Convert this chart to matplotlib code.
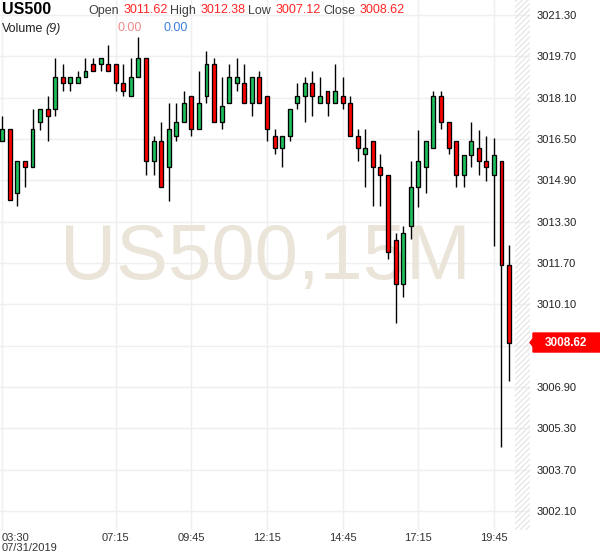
import matplotlib
matplotlib.use("Agg")
import matplotlib.pyplot as plt
import matplotlib.patches as mpatches
import matplotlib.transforms as mtransforms
import numpy as np

plt.rcParams['font.family'] = ['Liberation Sans', 'DejaVu Sans']
plt.rcParams['hatch.linewidth'] = 0.8
plt.rcParams['hatch.color'] = '#e3e3e3'

# ---- data (15-minute candles, 07/31/2019 starting 03:30) ----
opens = [3016.41, 3016.89, 3014.40, 3015.64, 3015.40, 3017.15, 3017.66, 3017.65, 3018.89, 3018.66,
         3018.66, 3018.89, 3019.40, 3019.40, 3019.40, 3019.40, 3018.66, 3018.15, 3018.89, 3019.62,
         3015.64, 3016.41, 3015.40, 3016.63, 3017.15, 3018.15, 3016.89, 3018.15, 3019.40, 3017.15,
         3017.88, 3018.66, 3018.66, 3017.88, 3018.89, 3018.15, 3016.63, 3016.14, 3016.63, 3017.88,
         3018.15, 3018.66, 3017.88, 3018.37, 3017.88, 3018.15, 3017.88, 3016.63, 3015.91, 3016.41,
         3015.40, 3015.12, 3012.60, 3010.89, 3013.13, 3014.63, 3015.40, 3016.14, 3018.15, 3017.15,
         3016.41, 3015.12, 3015.89, 3016.14, 3015.64, 3015.12, 3015.64, 3011.62]
highs = [3017.38, 3016.89, 3015.64, 3015.64, 3017.66, 3017.66, 3018.15, 3019.62, 3019.40, 3018.89,
         3019.12, 3019.62, 3019.62, 3019.62, 3020.14, 3019.40, 3019.40, 3019.62, 3020.45, 3019.62,
         3016.63, 3017.15, 3017.88, 3017.88, 3018.37, 3018.15, 3019.12, 3019.90, 3019.62, 3018.89,
         3019.40, 3019.62, 3019.40, 3018.89, 3019.12, 3018.15, 3016.89, 3016.63, 3017.66, 3018.66,
         3018.89, 3019.12, 3018.89, 3018.37, 3019.40, 3018.89, 3018.15, 3016.89, 3016.89, 3016.41,
         3015.91, 3015.12, 3012.86, 3013.12, 3015.64, 3016.86, 3016.41, 3018.37, 3018.37, 3017.15,
         3016.41, 3015.89, 3017.15, 3016.86, 3016.63, 3016.53, 3015.64, 3012.38]
lows = [3016.41, 3014.13, 3013.89, 3014.63, 3015.40, 3016.86, 3016.41, 3017.38, 3018.37, 3018.37,
        3018.66, 3018.89, 3019.12, 3019.12, 3019.12, 3018.37, 3018.15, 3018.15, 3018.89, 3015.12,
        3015.12, 3014.63, 3014.11, 3016.41, 3017.15, 3016.63, 3016.89, 3017.88, 3017.15, 3016.89,
        3017.88, 3018.37, 3017.88, 3017.38, 3017.88, 3016.41, 3015.91, 3015.40, 3016.41, 3017.65,
        3017.15, 3017.38, 3017.88, 3017.38, 3017.88, 3017.65, 3016.63, 3015.64, 3014.63, 3013.89,
        3013.89, 3011.85, 3009.36, 3010.37, 3012.63, 3013.88, 3014.40, 3016.14, 3016.89, 3015.92,
        3014.63, 3014.63, 3015.40, 3015.12, 3014.89, 3012.37, 3004.59, 3007.12]
closes = [3016.89, 3014.13, 3015.64, 3015.40, 3016.89, 3017.66, 3017.38, 3018.89, 3018.66, 3018.89,
          3018.89, 3019.12, 3019.12, 3019.62, 3019.12, 3018.66, 3018.37, 3018.89, 3019.62, 3015.64,
          3016.41, 3014.63, 3016.89, 3017.15, 3017.88, 3016.89, 3017.88, 3019.40, 3017.15, 3017.77,
          3018.89, 3018.89, 3017.88, 3018.89, 3017.88, 3016.89, 3016.14, 3016.63, 3017.66, 3018.15,
          3018.66, 3018.15, 3018.15, 3017.88, 3018.37, 3017.88, 3016.63, 3016.14, 3016.14, 3015.40,
          3015.12, 3012.11, 3010.89, 3012.87, 3014.63, 3015.64, 3016.41, 3018.15, 3017.15, 3016.14,
          3015.12, 3015.89, 3016.41, 3015.64, 3015.40, 3015.89, 3011.62, 3008.62]

time_tick_idx = [0, 15, 25, 35, 45, 55, 65]
time_tick_labels = ['03:30\n07/31/2019', '07:15', '09:45', '12:15', '14:45', '17:15', '19:45']
price_ticks = [3021.30, 3019.70, 3018.10, 3016.50, 3014.90, 3013.30, 3011.70,
               3010.10, 3006.90, 3005.30, 3003.70, 3002.10]
grid_prices = [3021.30, 3019.70, 3018.10, 3016.50, 3014.90, 3013.30, 3011.70,
               3010.10, 3008.50, 3006.90, 3005.30, 3003.70, 3002.10]

symbol = 'US500'
header_open, header_high, header_low, header_close = opens[-1], highs[-1], lows[-1], closes[-1]

# ---- figure ----
W, H = 600, 558
fig = plt.figure(figsize=(W / 100, H / 100), dpi=100)
fig.patch.set_facecolor('white')
ax = fig.add_axes([0, 28 / H, 530 / W, 530 / H])
ax.set_facecolor('white')
for s in ax.spines.values():
    s.set_visible(False)

n = len(opens)
x = np.arange(n)
o = np.array(opens); c = np.array(closes); hi = np.array(highs); lo = np.array(lows)
up = c >= o
GREEN = '#1fc05a'
RED = '#ff0000'

ax.set_xlim(-0.30, 69.77)
ax.set_ylim(3021.30 - 515 / 25.83, 3021.30 + 15 / 25.83)

# grid
for gp in grid_prices:
    ax.axhline(gp, color='#efefef', lw=1.0, zorder=0.5)
for gi in time_tick_idx:
    ax.axvline(gi, color='#efefef', lw=1.0, zorder=0.5)

# hatched future zone
ax.axvspan(67.75, 69.77, facecolor='none', hatch='//////', edgecolor='#e3e3e3', lw=0, zorder=0.6)

# watermark
ax.text(0.5, 0.512, 'US500,15M', transform=ax.transAxes, ha='center', va='center',
        fontsize=56, color='#ebe4d9', zorder=0.7)

# candles
ax.vlines(x, lo, hi, color='black', lw=1.0, zorder=2)
colors = np.where(up, GREEN, RED)
ax.bar(x, c - o, bottom=o, width=0.52, color=colors, edgecolor='black', linewidth=0.95, zorder=3)

# ticks
ax.set_xticks(time_tick_idx)
ax.set_xticklabels(time_tick_labels, fontsize=8, color='#333333', linespacing=1.0)
ax.tick_params(axis='x', length=0, pad=2)
first = ax.get_xticklabels()[0]
first.set_horizontalalignment('left')
first.set_multialignment('left')
first.set_transform(first.get_transform() +
                    mtransforms.ScaledTranslation(-0.01, 0, fig.dpi_scale_trans))
ax.yaxis.tick_right()
ax.set_yticks(price_ticks)
ax.set_yticklabels([f'{p:.2f}' for p in price_ticks], fontsize=8, color='#222222')
ax.tick_params(axis='y', length=0, pad=5)

fig.canvas.draw()

# current price marker
px, py = ax.get_yaxis_transform().transform((1.0, header_close))
pts = [(px + 0, py), (px + 3, py + 4), (px + 3, py + 9.5), (W, py + 9.5),
       (W, py - 9.5), (px + 3, py - 9.5), (px + 3, py - 4)]
poly = mpatches.Polygon(pts, closed=True, facecolor=RED, edgecolor=RED,
                        transform=mtransforms.IdentityTransform(), zorder=5)
fig.patches.append(poly)
fig.text((px + 36) / W, py / H, f'{header_close:.2f}', ha='center', va='center',
         fontsize=8.5, color='white', fontweight='bold', zorder=6)

# header overlay (pixel coords)
ov = fig.add_axes([0, 0, 1, 1], zorder=10)
ov.set_xlim(0, W); ov.set_ylim(H, 0); ov.axis('off'); ov.patch.set_alpha(0)
ov.text(2, 10, symbol, fontsize=11.5, fontweight='bold', color='black', va='center')
lab = '#404040'
val = '#ff2424'
ov.text(88, 11, 'Open', fontsize=9, color=lab, va='center')
ov.text(124, 10, f'{header_open:.2f}', fontsize=9, color=val, va='center')
ov.text(170, 11, 'High', fontsize=9, color=lab, va='center')
ov.text(201, 10, f'{header_high:.2f}', fontsize=9, color=val, va='center')
ov.text(248, 11, 'Low', fontsize=9, color=lab, va='center')
ov.text(276, 10, f'{header_low:.2f}', fontsize=9, color=val, va='center')
ov.text(323, 11, 'Close', fontsize=9, color=lab, va='center')
ov.text(360, 10, f'{header_close:.2f}', fontsize=9, color=val, va='center')
ov.text(2, 29, 'Volume', fontsize=9, color='#222222', va='center')
ov.text(45, 29, '(9)', fontsize=9, color='#222222', va='center', style='italic')
ov.text(118, 28, '0.00', fontsize=9, color='#f08a8a', va='center')
ov.text(163, 28, '0.00', fontsize=9, color='#3d7fe0', va='center')

fig.savefig('out.png', dpi=100, facecolor='white')
